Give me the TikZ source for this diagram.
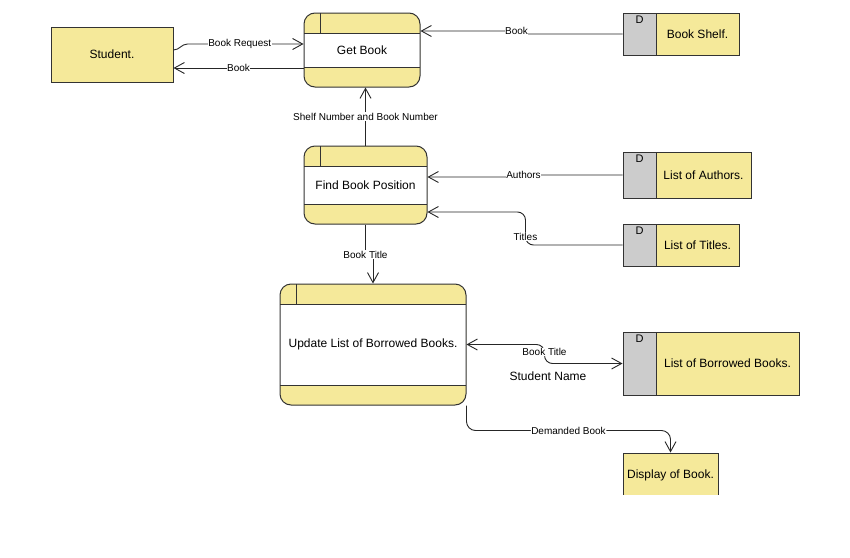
\documentclass[tikz,border=0pt]{standalone}
\usepackage{fontspec}
\setmainfont{Liberation Sans}
\usetikzlibrary{arrows.meta}
\definecolor{yel}{HTML}{F5E99A}
\definecolor{storegray}{HTML}{CCCCCC}
\definecolor{edge}{HTML}{333333}
\tikzset{
  base/.style={draw=edge, line width=1pt, inner sep=2pt, font=\fontsize{12}{14}\selectfont},
  entity/.style={base, rectangle, fill=yel},
  proc/.style={base, rectangle, rounded corners=11pt, fill=yel,
    path picture={
      \fill[white, sharp corners] ([yshift=-20pt]path picture bounding box.north west)
        rectangle ([yshift=20pt]path picture bounding box.south east);
      \draw[edge, line width=1pt, sharp corners]
        ([yshift=-20pt]path picture bounding box.north west) -- ([yshift=-20pt]path picture bounding box.north east)
        ([yshift=20pt]path picture bounding box.south west) -- ([yshift=20pt]path picture bounding box.south east)
        ([xshift=16pt]path picture bounding box.north west) -- ([xshift=16pt,yshift=-20pt]path picture bounding box.north west);
    }},
  store/.style={base, rectangle, fill=yel,
    path picture={
      \fill[storegray] (path picture bounding box.north west)
        rectangle ([xshift=33pt]path picture bounding box.south west);
      \draw[edge, line width=1pt] ([xshift=33pt]path picture bounding box.north west)
        -- ([xshift=33pt]path picture bounding box.south west);
      \node[font=\fontsize{11}{13}\selectfont, anchor=north, inner sep=0pt,
            minimum width=0pt, minimum height=0pt, draw=none, fill=none]
        at ([xshift=16.5pt,yshift=-2pt]path picture bounding box.north west) {D};
    }},
  flow/.style={draw=black!85, line width=0.9pt, -{Straight Barb[length=10pt,width=11pt]}},
  flowboth/.style={draw=black!85, line width=0.9pt, {Straight Barb[length=10pt,width=11pt]}-{Straight Barb[length=10pt,width=11pt]}},
  lbl/.style={fill=white, inner sep=0.5pt, font=\fontsize{10}{12}\selectfont, text=black}
}
\begin{document}
\begin{tikzpicture}[x=1pt,y=-1pt]
\useasboundingbox[fill=white] (0,0) rectangle (850,557);

% external entities
\node[entity, minimum width=122pt, minimum height=55pt] (st) at (112,54.5) {Student.};

% processes
\node[proc, minimum width=116pt, minimum height=74pt] (gb) at (362,50) {Get Book};
\node[proc, minimum width=123pt, minimum height=78pt] (fb) at (365.5,185) {Find Book Position};
\node[proc, minimum width=186pt, minimum height=121pt] (up) at (373,344.5) {Update List of Borrowed Books.};

% data stores
\node[store, minimum width=116pt, minimum height=42pt] (shelf) at (681,34) {\hspace*{33pt}Book Shelf.};
\node[store, minimum width=128pt, minimum height=46pt] (au) at (687,175) {\hspace*{33pt}List of Authors.};
\node[store, minimum width=116pt, minimum height=42pt] (ti) at (681,245) {\hspace*{33pt}List of Titles.};
\node[store, minimum width=176pt, minimum height=63pt] (bb) at (711,363.5) {\hspace*{33pt}List of Borrowed Books.};

% display entity, running off the lower edge
\begin{scope}
  \clip (0,0) rectangle (850,494);
  \node[entity, minimum width=95pt, minimum height=44pt] (disp) at (670.5,475) {Display of Book.};
\end{scope}

% data flows
\draw[flow] ([yshift=4.5pt]st.east) .. controls +(6,0) and +(-6,0) .. ++(14,-6)
  -- node[lbl, pos=0.45]{Book Request} ([yshift=6pt]gb.west);
\draw[flow] ([yshift=-18pt]gb.west) -- node[lbl]{Book} ([yshift=-13.5pt]st.east);
\draw[flow] (shelf.west) -- ++(-99,0) -- node[lbl, yshift=2pt]{Book} ++(-14,-3) -- ([yshift=19pt]gb.east);
\draw[flow] (fb.north) -- node[lbl, pos=0.5]{Shelf Number and Book Number} (fb.north |- gb.south);
\draw[flow] (au.west) -- ++(-90,0) -- node[lbl, yshift=1pt]{Authors} ++(-18,2) -- ([yshift=8pt]fb.east);
\draw[flow, rounded corners=8pt] (ti.west) -- ++(-97,0) -- node[lbl, pos=0.25]{Titles} ++(0,-33) -- ([yshift=-27pt]fb.east);
\draw[flow] (fb.south) -- ++(0,30) node[lbl]{Book Title} -- ++(7.5,0) -- (up.north);
\draw[flowboth, rounded corners=8pt] (bb.west) -- ++(-78,0) -- ++(0,-19) node[lbl, yshift=-7.5pt]{Book Title} -- (up.east);
\node[font=\fontsize{12}{14}\selectfont] (sn) at (548,376) {Student Name};
\draw[flow, rounded corners=9pt] (up.south east) -- ++(0,25) -| node[lbl, pos=0.25]{Demanded Book} (disp.north);
\end{tikzpicture}
\end{document}
